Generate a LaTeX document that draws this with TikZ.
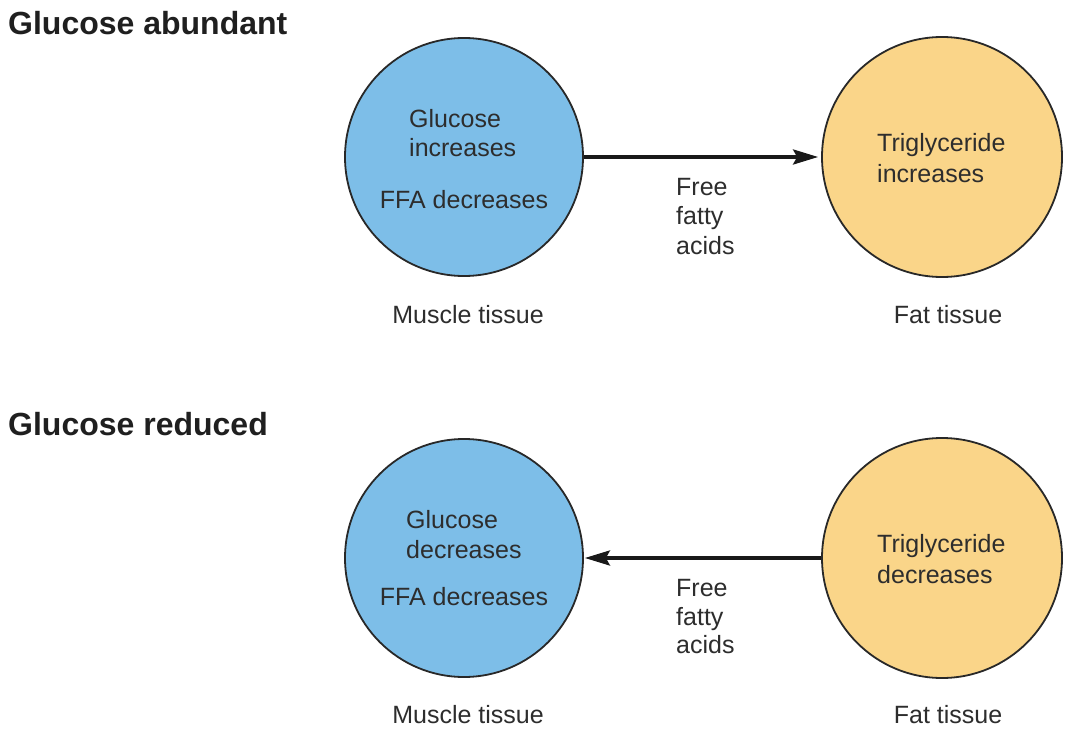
\documentclass[tikz,border=0pt]{standalone}
\usepackage{fontspec}
\setmainfont{Liberation Sans}
\usetikzlibrary{arrows.meta}
\definecolor{muscleblue}{RGB}{125,190,232}
\definecolor{fatorange}{RGB}{250,213,137}
\definecolor{ink}{RGB}{45,45,45}
\definecolor{outline}{RGB}{40,40,40}
\begin{document}
\begin{tikzpicture}[x=1pt,y=-1pt,
  tissue/.style={circle,draw=outline,line width=1.8pt,minimum size=238pt,inner sep=0pt},
  lbl/.style={anchor=base west,inner sep=0pt,text=ink,font=\fontsize{25}{30}\selectfont},
  clbl/.style={lbl,anchor=base},
  ttl/.style={anchor=base west,inner sep=0pt,text=black!88,font=\fontsize{32}{37}\selectfont\bfseries},
  flow/.style={draw=black!90,line width=3.3pt,-{Stealth[length=25pt,width=15pt,inset=4pt]}}]
\useasboundingbox (0,0) rectangle (1065,730);
\fill[white] (0,0) rectangle (1065,730);

% titles
\node[ttl] (t1) at (8,35) {Glucose abundant};
\node[ttl] (t2) at (8,435) {Glucose reduced};

% top row
\node[tissue,fill=muscleblue] (m1) at (464,157) {};
\node[tissue,fill=fatorange,minimum size=240pt] (f1) at (942,157) {};
\draw[flow] (m1.east) -- ([xshift=-3pt]f1.west);

\node[lbl] (m1a) at (409,128) {Glucose};
\node[lbl] (m1b) at (409,157) {increases};
\node[clbl] (m1c) at (464,208) {FFA decreases};
\node[lbl] (f1a) at (877,152) {Triglyceride};
\node[lbl] (f1b) at (877,183) {increases};
\node[lbl] (a1a) at (676,196) {Free};
\node[lbl] (a1b) at (676,225) {fatty};
\node[lbl] (a1c) at (676,254) {acids};
\node[clbl] (m1l) at (468,323) {Muscle tissue};
\node[clbl] (f1l) at (948,323) {Fat tissue};

% bottom row
\node[tissue,fill=muscleblue] (m2) at (464,558) {};
\node[tissue,fill=fatorange,minimum size=240pt] (f2) at (942,558) {};
\draw[flow] (f2.west) -- ([xshift=1pt]m2.east);

\node[lbl] (m2a) at (406,528) {Glucose};
\node[lbl] (m2b) at (406,558) {decreases};
\node[clbl] (m2c) at (464,605) {FFA decreases};
\node[lbl] (f2a) at (877,552) {Triglyceride};
\node[lbl] (f2b) at (877,583) {decreases};
\node[lbl] (a2a) at (676,596) {Free};
\node[lbl] (a2b) at (676,625) {fatty};
\node[lbl] (a2c) at (676,653) {acids};
\node[clbl] (m2l) at (468,723) {Muscle tissue};
\node[clbl] (f2l) at (948,723) {Fat tissue};
\end{tikzpicture}
\end{document}
